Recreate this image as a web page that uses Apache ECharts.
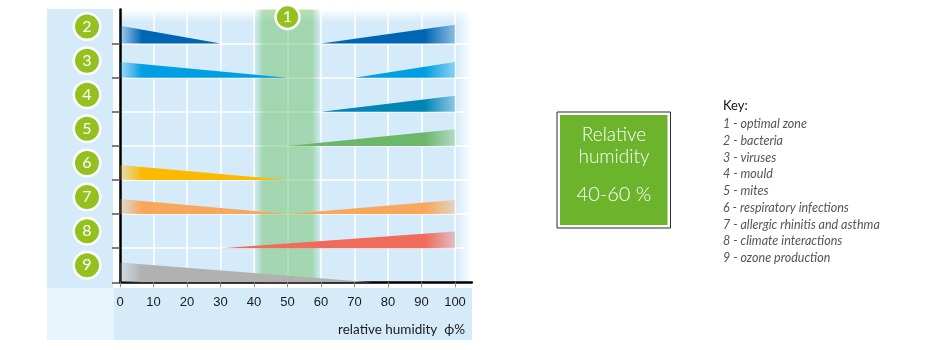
<!DOCTYPE html>
<html><head><meta charset="utf-8">
<script src="https://cdn.jsdelivr.net/npm/echarts@6/dist/echarts.min.js"></script>
<style>html,body{margin:0;padding:0;background:#fff}#c{width:950px;height:350px}</style>
</head><body><div id="c"></div>
<script>
// ---------- data ----------
const xTicks = [0, 10, 20, 30, 40, 50, 60, 70, 80, 90, 100];
const rowNumbers = ['2', '3', '4', '5', '6', '7', '8', '9'];          // top -> bottom
const rowColors = ['#0066b3', '#009fe3', '#0086b6', '#6cb86a', '#fbba00', '#f8a75b', '#ef6b5b', '#b1b1b1'];
// wedges: row index (0 = top row), start/end humidity, relative height at start/end (fraction of row)
const wedgeRow   = [0,    0,    1,    1,    2,    3,    4,    5,    5,    6,    7];
const wedgeFrom  = [0,    60,   0,    70,   60,   50,   0,    0,    50,   30,   0];
const wedgeTo    = [30,   100,  50,   100,  100,  100,  50,   50,   100,  100,  75];
const heightFrom = [0.52, 0,    0.46, 0,    0,    0,    0.44, 0.44, 0,    0,    0.58];
const heightTo   = [0,    0.55, 0,    0.46, 0.47, 0.49, 0,    0,    0.41, 0.49, 0];
const optimalZone = [40, 60];
const optimalLabel = '1';
const boxLines = ['Relative', 'humidity', '40-60 %'];
const keyTitle = 'Key:';
const keyItems = ['1 - optimal zone', '2 - bacteria', '3 - viruses', '4 - mould', '5 - mites',
  '6 - respiratory infections', '7 - allergic rhinitis and asthma', '8 - climate interactions', '9 - ozone production'];
const axisName = 'relative humidity  \u03D5%';

// ---------- helpers ----------
const ROWS = rowNumbers.length;
const X_MAX = 100;
const BG = '#d5ebfa';
function rgba(hex, a) {
  const n = parseInt(hex.slice(1), 16);
  return 'rgba(' + (n >> 16 & 255) + ',' + (n >> 8 & 255) + ',' + (n & 255) + ',' + a + ')';
}
const chart = echarts.init(document.getElementById('c'), null, {renderer: 'canvas'});

const wedgeData = wedgeRow.map((r, i) => [wedgeFrom[i], ROWS - 1 - r, wedgeTo[i], heightFrom[i], heightTo[i], r]);

const option = {
  animation: false,
  backgroundColor: '#fff',
  grid: {left: 120, right: 478.25, top: 9.5, bottom: 67.7, containLabel: false},
  xAxis: [{
    type: 'value', min: 0, max: 105, interval: 10,
    axisLine: {show: true, lineStyle: {color: '#000', width: 2.5}},
    axisTick: {show: false}, axisLabel: {show: false},
    splitLine: {show: true, lineStyle: {color: '#fff', width: 1.5}}
  }, {
    type: 'value', min: 0, max: 105, position: 'bottom', offset: 6,
    axisLine: {show: false},
    axisTick: {show: true, customValues: xTicks, length: 5, lineStyle: {color: '#8a8a8a', width: 1}},
    axisLabel: {show: true, customValues: xTicks, margin: 8, color: '#1a1a1a', fontSize: 13,
      fontFamily: '"Liberation Sans Narrow", "Arial Narrow", sans-serif'},
    splitLine: {show: false}
  }],
  yAxis: [{
    type: 'value', min: 0, max: ROWS, interval: 1,
    axisLine: {show: true, lineStyle: {color: '#000', width: 2.5}},
    axisTick: {show: false}, axisLabel: {show: false},
    splitLine: {show: true, lineStyle: {color: '#fff', width: 1.5}}
  }, {
    type: 'value', min: 0, max: ROWS, position: 'left', offset: 7,
    axisLine: {show: false},
    axisTick: {show: true, customValues: [0, 1, 2, 3, 4, 5, 6, 7], length: 8, lineStyle: {color: '#555', width: 1.5}},
    axisLabel: {
      show: true, customValues: [0.5, 1.5, 2.5, 3.5, 4.5, 5.5, 6.5, 7.5], margin: 14,
      formatter: v => '{c|' + rowNumbers[ROWS - 1 - Math.floor(v)] + '}',
      rich: {c: {width: 24, height: 24, lineHeight: 24, align: 'center', verticalAlign: 'middle',
        backgroundColor: '#95c11f', borderColor: '#fff', borderWidth: 2.5, borderRadius: 14,
        color: '#fff', fontSize: 16, fontFamily: 'Lato, "Open Sans", sans-serif'}}
    },
    splitLine: {show: false}
  }],
  series: [{
    type: 'custom', name: 'optimal', z: 2,
    data: [[optimalZone[0], optimalZone[1]]],
    encode: {x: [0, 1]},
    renderItem: (params, api) => {
      const p0 = api.coord([api.value(0), ROWS]);
      const p1 = api.coord([api.value(1), 0]);
      const w = p1[0] - p0[0];
      const c = 'rgba(105,190,95,0.47)';
      return {type: 'rect', shape: {x: p0[0], y: p0[1], width: w, height: p1[1] - p0[1]},
        style: {fill: new echarts.graphic.LinearGradient(p0[0], 0, p1[0], 0, [
          {offset: 0, color: 'rgba(105,190,95,0)'}, {offset: 9 / w, color: c},
          {offset: 1 - 9 / w, color: c}, {offset: 1, color: 'rgba(105,190,95,0)'}], true)}};
    }
  }, {
    type: 'custom', name: 'wedges', z: 3,
    data: wedgeData,
    encode: {x: [0, 2], y: 1},
    renderItem: (params, api) => {
      const x0 = api.value(0), base = api.value(1), x1 = api.value(2);
      const h0 = api.value(3), h1 = api.value(4), r = api.value(5);
      const a = api.coord([x0, base]), b = api.coord([x0, base + h0]);
      const c = api.coord([x1, base + h1]), d = api.coord([x1, base]);
      const col = rowColors[r];
      const w = d[0] - a[0];
      const stops = [];
      if (x0 === 0) { stops.push({offset: 0, color: rgba(col, 0.22)}); stops.push({offset: Math.min(22 / w, 0.5), color: col}); }
      else stops.push({offset: 0, color: col});
      if (x1 === X_MAX) { stops.push({offset: 1 - 30 / w, color: col}); stops.push({offset: 1, color: rgba(col, 0.35)}); }
      else stops.push({offset: 1, color: col});
      return {type: 'polygon', shape: {points: [a, b, c, d]},
        style: {fill: new echarts.graphic.LinearGradient(a[0], 0, d[0], 0, stops, true)}};
    }
  }, {
    type: 'scatter', name: 'optimal label', z: 5, clip: false,
    data: [[(optimalZone[0] + optimalZone[1]) / 2, ROWS]],
    symbol: 'circle', symbolSize: 24, symbolOffset: [0, 7.5],
    itemStyle: {color: '#95c11f', borderColor: '#fff', borderWidth: 2.5, opacity: 1},
    label: {show: true, position: 'inside', formatter: optimalLabel, color: '#fff', fontSize: 16,
      fontFamily: 'Lato, "Open Sans", sans-serif'}
  }],
  graphic: {elements: [
    {type: 'rect', z: -20, shape: {x: 47, y: 9, width: 66, height: 279}, style: {fill: BG}},
    {type: 'rect', z: -20, shape: {x: 47, y: 288, width: 67, height: 52}, style: {fill: '#e8f5fd'}},
    {type: 'rect', z: -20, shape: {x: 114, y: 288, width: 358, height: 52}, style: {fill: BG}},
    {type: 'rect', z: -19, shape: {x: 120, y: 9.5, width: 352, height: 272.8},
      style: {fill: new echarts.graphic.LinearGradient(0, 0, 0, 1, [
        {offset: 0, color: '#ffffff'}, {offset: 0.045, color: BG}, {offset: 1, color: BG}])}},
    {type: 'rect', z: -18, shape: {x: 456, y: 9.5, width: 16, height: 272.8},
      style: {fill: new echarts.graphic.LinearGradient(0, 0, 1, 0, [
        {offset: 0, color: 'rgba(255,255,255,0)'}, {offset: 1, color: '#ffffff'}])}},
    {type: 'text', z: 10, style: {x: 465, y: 330, text: axisName, align: 'right', verticalAlign: 'middle',
      fill: '#1a1a1a', font: '13.5px Lato, "Open Sans", sans-serif'}},
    {type: 'rect', z: 10, shape: {x: 557, y: 112, width: 113.5, height: 116}, style: {fill: '#fff', stroke: '#2a2a2a', lineWidth: 1}},
    {type: 'rect', z: 11, shape: {x: 560, y: 115, width: 107.5, height: 110}, style: {fill: '#6cb42c'}},
    {type: 'text', z: 12, style: {x: 614, y: 135, text: boxLines[0], align: 'center', verticalAlign: 'middle', fill: '#fff', font: '300 19px Lato, sans-serif'}},
    {type: 'text', z: 12, style: {x: 614, y: 157, text: boxLines[1], align: 'center', verticalAlign: 'middle', fill: '#fff', font: '300 19px Lato, sans-serif'}},
    {type: 'text', z: 12, style: {x: 614, y: 195, text: boxLines[2], align: 'center', verticalAlign: 'middle', fill: '#fff', font: '300 20px Lato, sans-serif'}},
    {type: 'text', z: 12, style: {x: 723, y: 106, text: keyTitle, align: 'left', verticalAlign: 'middle', fill: '#111', font: '13px Lato, sans-serif'}}
  ].concat(keyItems.map((t, i) => ({type: 'text', z: 12, style: {x: 723, y: 124.3 + i * 16.7, text: t, align: 'left',
      verticalAlign: 'middle', fill: '#555', font: 'italic 12.5px Lato, sans-serif'}})))}
};
chart.setOption(option);
</script></body></html>
